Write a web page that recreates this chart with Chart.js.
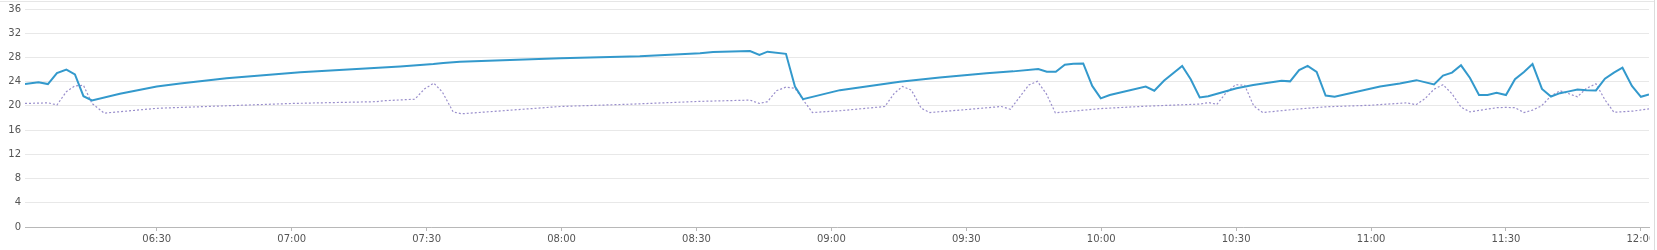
<!DOCTYPE html>
<html>
<head>
<meta charset="utf-8">
<script src="https://cdn.jsdelivr.net/npm/chart.js@4.4.1/dist/chart.umd.min.js"></script>
<style>
  html, body { margin: 0; padding: 0; background: #fff; width: 1657px; height: 250px; overflow: hidden; }
  #wrap { position: absolute; left: 0; top: 0; width: 1650px; height: 250px; overflow: hidden; }
  #topline { position: absolute; left: 0; top: 1px; width: 1655px; height: 1px; background: #e6e6e6; }
  #rightline { position: absolute; left: 1654px; top: 0; width: 1px; height: 250px; background: #dcdcdc; }
</style>
</head>
<body>
<div id="topline"></div>
<div id="rightline"></div>
<div id="wrap"><canvas id="c" width="1650" height="250"></canvas></div>
<script>
// Minutes after 06:00
const tickMinutes = [30, 60, 90, 120, 150, 180, 210, 240, 270, 300, 330, 360];
const tickLabels = ['06:30', '07:00', '07:30', '08:00', '08:30', '09:00', '09:30', '10:00', '10:30', '11:00', '11:30', '12:00'];
const yTicks = [0, 4, 8, 12, 16, 20, 24, 28, 32, 36];

const solidTimes = [0.7, 3.7, 5.8, 7.8, 9.9, 11.8, 13.7, 15.6, 21.8, 30, 35.2, 45.5, 61.9, 84.1, 91.5, 93.7, 97.4, 119.7, 137.4, 150.8, 153.7, 161.9, 164.0, 165.8, 169.9, 171.9, 173.7, 181.9, 195.2, 204.1, 214.5, 220.4, 226.0, 227.9, 229.9, 231.9, 233.8, 236.0, 238.0, 239.9, 241.9, 249.9, 251.8, 254.0, 258.0, 259.9, 261.9, 263.8, 270.1, 273.8, 280.1, 282.0, 284.0, 285.9, 287.9, 289.9, 291.9, 302.0, 306.4, 310.1, 314.0, 316.0, 318.0, 320.0, 322.0, 324.0, 325.9, 327.9, 330.0, 332.0, 334.0, 335.9, 338.0, 340.0, 342.0, 344.0, 345.9, 347.9, 350.0, 352.0, 354.0, 355.9, 358.0, 360.0, 361.8];
const solidValues = [23.6, 23.9, 23.6, 25.4, 26.0, 25.2, 21.6, 20.9, 22.0, 23.2, 23.7, 24.55, 25.55, 26.5, 26.9, 27.1, 27.3, 27.85, 28.2, 28.7, 28.9, 29.06, 28.4, 28.95, 28.6, 23.2, 21.1, 22.6, 24.0, 24.7, 25.4, 25.7, 26.1, 25.65, 25.65, 26.8, 26.95, 27.0, 23.3, 21.25, 21.8, 23.2, 22.5, 24.2, 26.6, 24.4, 21.4, 21.6, 22.9, 23.45, 24.15, 24.05, 25.9, 26.6, 25.6, 21.7, 21.5, 23.2, 23.7, 24.25, 23.55, 25.0, 25.5, 26.7, 24.6, 21.8, 21.8, 22.15, 21.8, 24.4, 25.6, 26.9, 22.8, 21.55, 22.1, 22.4, 22.7, 22.6, 22.55, 24.5, 25.5, 26.3, 23.3, 21.5, 21.9];

const dottedTimes = [0.7, 5.9, 7.8, 9.9, 11.8, 13.7, 15.6, 18.3, 30, 44.8, 60, 78.9, 80.4, 87.4, 89.5, 91.6, 93.5, 95.9, 97.8, 119.7, 136, 150.8, 161.9, 164.0, 165.8, 167.8, 169.9, 171.9, 173.7, 175.8, 181.9, 191.9, 194.0, 195.8, 197.8, 200.0, 201.9, 210.1, 217.8, 219.8, 221.9, 223.9, 225.8, 227.8, 229.8, 239.7, 250.0, 261.9, 263.9, 265.7, 267.8, 269.9, 271.9, 273.9, 275.9, 284.0, 290.0, 299.7, 307.9, 310.0, 312.0, 314.0, 316.0, 318.0, 320.0, 322.0, 324.0, 327.9, 330.0, 332.0, 334.0, 335.9, 337.9, 340.0, 342.0, 344.0, 345.9, 347.9, 350.0, 352.0, 354.0, 358.3, 361.8];
const dottedValues = [20.4, 20.5, 20.15, 22.35, 23.3, 23.4, 20.4, 18.8, 19.6, 20.0, 20.4, 20.7, 20.85, 21.1, 22.8, 23.75, 22.3, 19.0, 18.7, 19.9, 20.3, 20.75, 20.95, 20.4, 20.7, 22.5, 23.1, 22.9, 21.0, 18.9, 19.2, 19.9, 22.1, 23.2, 22.6, 19.6, 18.9, 19.4, 19.9, 19.45, 21.5, 23.45, 24.05, 22.0, 18.85, 19.55, 19.95, 20.3, 20.55, 20.25, 22.2, 23.5, 23.4, 20.0, 18.9, 19.5, 19.85, 20.1, 20.5, 20.2, 21.2, 22.75, 23.5, 22.0, 19.8, 19.0, 19.25, 19.7, 19.75, 19.7, 18.9, 19.3, 20.0, 21.65, 22.5, 22.0, 21.5, 22.9, 23.65, 21.0, 18.95, 19.15, 19.5];

const toPoints = (xs, ys) => xs.map((x, i) => ({ x: x, y: ys[i] }));

new Chart(document.getElementById('c'), {
  type: 'line',
  data: {
    datasets: [
      {
        data: toPoints(solidTimes, solidValues),
        borderColor: '#3399cc',
        borderWidth: 2,
        pointRadius: 0,
        tension: 0,
        fill: false
      },
      {
        data: toPoints(dottedTimes, dottedValues),
        borderColor: '#9a8fcc',
        borderWidth: 1.2,
        borderDash: [2, 2],
        pointRadius: 0,
        tension: 0,
        fill: false
      }
    ]
  },
  options: {
    responsive: false,
    animation: false,
    events: [],
    layout: { padding: { left: 0, right: 1, top: 9, bottom: 0 } },
    plugins: { legend: { display: false }, tooltip: { enabled: false } },
    scales: {
      x: {
        type: 'linear',
        min: 0.7,
        max: 361.8,
        afterBuildTicks: (scale) => { scale.ticks = tickMinutes.map(v => ({ value: v })); },
        afterFit: (scale) => { scale.paddingLeft = 0; scale.paddingRight = 0; scale.height = 23; },
        grid: { drawOnChartArea: false, drawTicks: true, tickLength: 4, color: '#b8b8b8' },
        border: { display: true, color: '#b8b8b8', width: 1 },
        ticks: {
          autoSkip: false,
          maxRotation: 0,
          minRotation: 0,
          padding: 2,
          color: '#555',
          font: { family: 'DejaVu Sans', size: 10 },
          callback: (v) => { const i = tickMinutes.indexOf(v); return i >= 0 ? tickLabels[i] : ''; }
        }
      },
      y: {
        min: 0,
        max: 36,
        afterBuildTicks: (scale) => { scale.ticks = yTicks.map(v => ({ value: v })); },
        afterFit: (scale) => { scale.width = 25; scale.paddingTop = 0; scale.paddingBottom = 0; },
        grid: { drawTicks: false, color: '#e8e8e8', lineWidth: 1 },
        border: { display: false },
        ticks: {
          padding: 4,
          color: '#555',
          font: { family: 'DejaVu Sans', size: 10 }
        }
      }
    }
  }
});
</script>
</body>
</html>
